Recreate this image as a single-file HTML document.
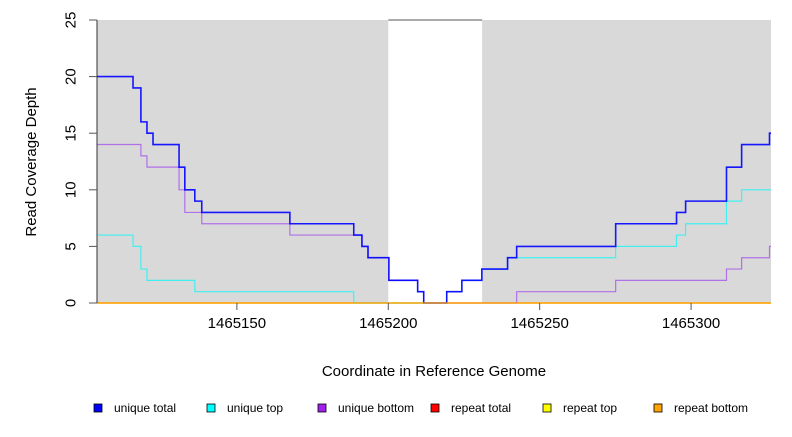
<!DOCTYPE html>
<html><head><meta charset="utf-8"><style>
body{margin:0;background:#fff;font-family:"Liberation Sans",sans-serif;}
svg text{font-family:"Liberation Sans",sans-serif;}
</style></head><body>
<svg id="chart" width="792" height="432" xmlns="http://www.w3.org/2000/svg">
<g id="plot"></g>
</svg>
<script>
const xStarts = [1465103.8,1465115.7,1465118.3,1465120.3,1465122.3,1465130.9,1465132.8,1465136.1,1465138.4,1465167.5,1465188.6,1465191.3,1465193.3,1465200.2,1465209.7,1465211.7,1465219.3,1465224.3,1465230.9,1465239.4,1465242.4,1465275.1,1465295.2,1465298.2,1465311.7,1465316.7,1465325.9];
const totalVals = [20,19,16,15,14,12,10,9,8,7,6,5,4,2,1,0,1,2,3,4,5,7,8,9,12,14,15];
const topVals   = [6,5,3,2,2,2,2,1,1,1,0,0,0,0,0,0,1,2,3,4,4,5,6,7,9,10,10];
const bottomVals= [14,14,13,12,12,10,8,8,7,6,6,5,4,2,1,0,0,0,0,0,1,2,2,2,3,4,5];
const repeatVals= [0,0,0,0,0,0,0,0,0,0,0,0,0,0,0,0,0,0,0,0,0,0,0,0,0,0,0];
const xTicks = [1465150,1465200,1465250,1465300];
const yTicks = [0,5,10,15,20,25];
const shadeRegions = [[1465103.8,1465200],[1465231,1465326.4]];
const legendLabels = ["unique total","unique top","unique bottom","repeat total","repeat top","repeat bottom"];
const legendColors = ["#0000ff","#00ffff","#a020f0","#ff0000","#ffff00","#ffa500"];

const X0=1465103.8, X1=1465326.4, PX0=97, PX1=771, PY0=303, PY1=20;
const sx=v=>PX0+(v-X0)/(X1-X0)*(PX1-PX0);
const sy=v=>PY0-(v/25)*(PY0-PY1);
const NS="http://www.w3.org/2000/svg";
const g=document.getElementById('plot');
function mk(t,a,p){const e=document.createElementNS(NS,t);for(const k in a)e.setAttribute(k,a[k]);(p||g).appendChild(e);return e;}

shadeRegions.forEach(r=>{
  const e=mk('rect',{x:sx(r[0]),y:PY1,width:sx(r[1])-sx(r[0]),height:PY0-PY1,fill:'#d9d9d9'});
  
  
});
const tl=mk('line',{x1:sx(1465200),x2:sx(1465231),y1:PY1,y2:PY1,stroke:'#555','stroke-width':1});



function stepPath(vals){
  let d='';
  for(let i=0;i<xStarts.length;i++){
    const x=sx(xStarts[i]), y=sy(vals[i]);
    d+= (i===0?'M':'L')+x+','+y+' ';
    const xn = i+1<xStarts.length? sx(xStarts[i+1]) : PX1;
    d+='L'+xn+','+y+' ';
  }
  return d;
}
[[repeatVals,'#ff0000','repeat-total-line'],[repeatVals,'#ffff00','repeat-top-line'],[topVals,'#40f0f0','unique-top-line'],[bottomVals,'#b070e8','unique-bottom-line'],[totalVals,'#0000ff','unique-total-line'],[repeatVals,'#ffa500','repeat-bottom-line']].forEach(s=>{
  const e=mk('path',{d:stepPath(s[0]),fill:'none',stroke:s[1],'stroke-width':s[2]==='unique-total-line'?1.6:1.2,opacity:s[2]==='unique-total-line'?0.9:1});
  
  
});

const ya=mk('line',{x1:PX0,x2:PX0,y1:sy(0),y2:sy(25),stroke:'#333'});


yTicks.forEach(v=>{
  const t=mk('line',{x1:PX0-8,x2:PX0,y1:sy(v),y2:sy(v),stroke:'#555'});
  
  
  const l=mk('text',{x:PX0-26,y:sy(v),'font-size':15,'text-anchor':'middle',transform:`rotate(-90 ${PX0-26} ${sy(v)})`,'dominant-baseline':'central'});
  l.textContent=v;
  
  
});
xTicks.forEach(v=>{
  const t=mk('line',{x1:sx(v),x2:sx(v),y1:PY0,y2:PY0+7,stroke:'#555'});
  
  
  const l=mk('text',{x:sx(v),y:PY0+25,'font-size':15,'text-anchor':'middle'});
  l.textContent=v;
  
  
});
const xt=mk('text',{x:434,y:376,'font-size':15,'text-anchor':'middle'});
xt.textContent='Coordinate in Reference Genome';


const yt=mk('text',{x:36,y:162,'font-size':15,'text-anchor':'middle',transform:'rotate(-90 36 162)'});
yt.textContent='Read Coverage Depth';



const lx=[94,207,318,431,543,654];
legendLabels.forEach((lab,i)=>{
  const r=mk('rect',{x:lx[i],y:404,width:8,height:8,fill:legendColors[i],stroke:'#000','stroke-width':0.8});
  
  
  const t=mk('text',{x:lx[i]+20,y:412,'font-size':12});
  t.textContent=lab;
  
  
});
</script>
</body></html>
